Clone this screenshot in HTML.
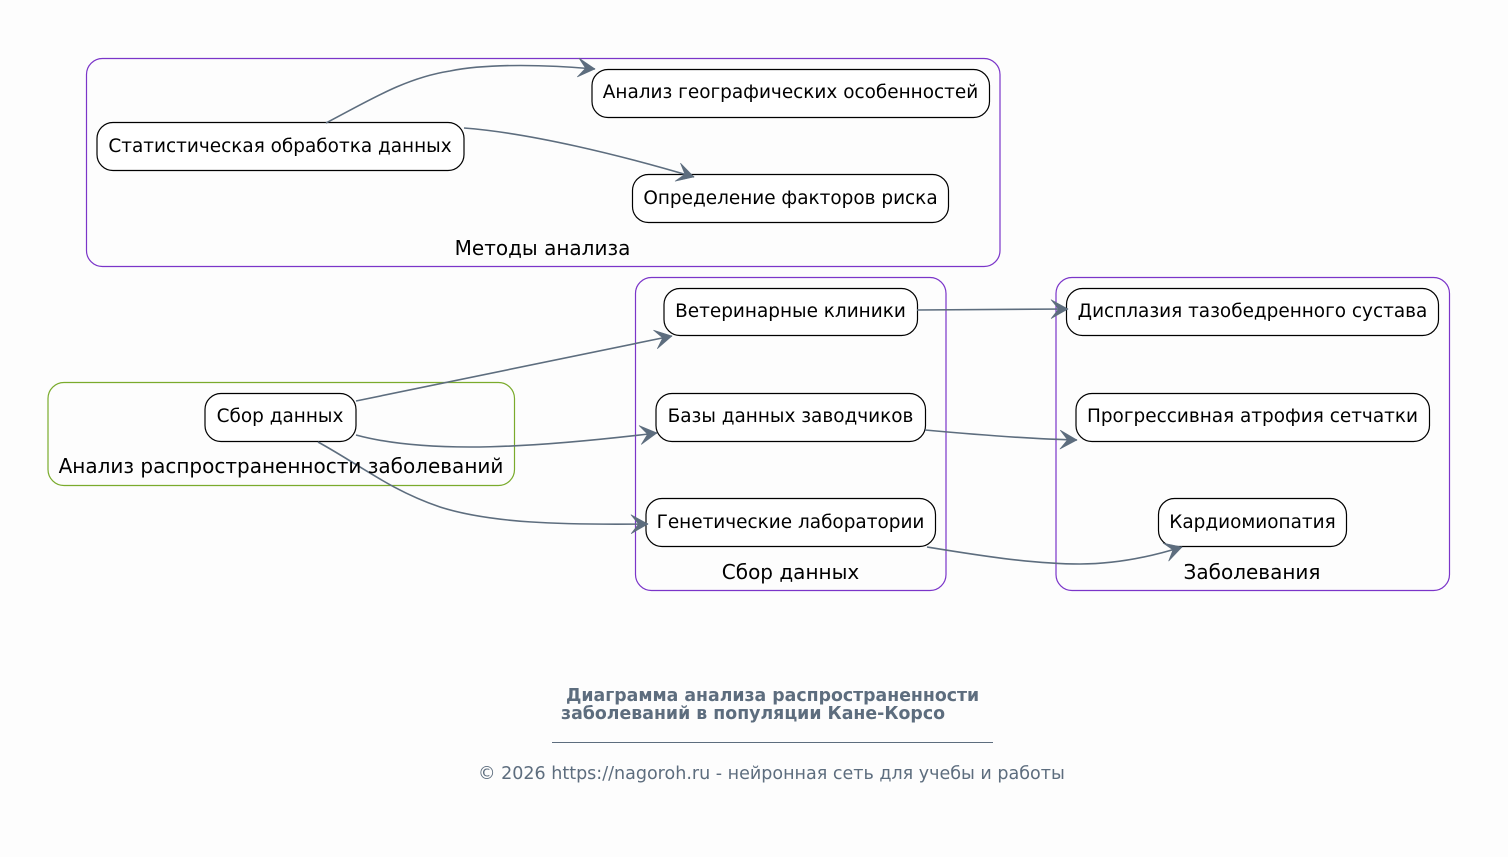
<!DOCTYPE html>
<html><head><meta charset="utf-8"><style>
html,body{margin:0;padding:0;background:#fdfdfd}
svg{display:block}
text{font-family:"DejaVu Sans",sans-serif;fill:#000}
.n{fill:#fff;stroke:#000;stroke-width:1.2}
.c{fill:none;stroke:#7b35c9;stroke-width:1.2}
.e{fill:none;stroke:#5d6d7e;stroke-width:1.6;marker-end:url(#a)}
.t{font-size:18.45px;text-anchor:middle}
.l{font-size:20px;text-anchor:middle}
</style></head><body>
<svg width="1508" height="857" viewBox="0 0 1508 857" xmlns="http://www.w3.org/2000/svg">
<defs><marker id="a" markerUnits="userSpaceOnUse" markerWidth="26" markerHeight="26" refX="20" refY="10" orient="auto" overflow="visible">
<path d="M3,0.500 L20,10 L3,19.500 L10.500,10 Z" fill="#5d6d7e" stroke="#5d6d7e" stroke-width=".6" stroke-linejoin="miter"/></marker></defs>
<rect width="1508" height="857" fill="#fdfdfd"/>
<rect class="c" x="86.5" y="58.5" width="913.5" height="208" rx="16"/>
<rect class="c" x="48" y="382.5" width="466.5" height="103" rx="16" style="stroke:#7aab2c"/>
<rect class="c" x="635.5" y="277.5" width="310.5" height="313" rx="16"/>
<rect class="c" x="1056" y="277.5" width="393.5" height="313" rx="16"/>
<rect class="n" x="592" y="69.5" width="397.5" height="48" rx="16"/>
<rect class="n" x="97" y="122.5" width="367" height="48" rx="16"/>
<rect class="n" x="632.5" y="174.5" width="316" height="48" rx="16"/>
<rect class="n" x="664" y="288.5" width="253.5" height="47" rx="16"/>
<rect class="n" x="656" y="393.5" width="269.5" height="48" rx="16"/>
<rect class="n" x="646" y="498.5" width="289.5" height="48" rx="16"/>
<rect class="n" x="205" y="393.5" width="151" height="48" rx="16"/>
<rect class="n" x="1066.5" y="288.5" width="372" height="47" rx="16"/>
<rect class="n" x="1076" y="393.5" width="353.5" height="48" rx="16"/>
<rect class="n" x="1158.5" y="498.5" width="188" height="48" rx="16"/>
<path class="e" d="M326,123 C370,100 405,78 450,71 C490,63 550,65 595,69"/>
<path class="e" d="M464,128 C530,133 620,155 694,177"/>
<path class="e" d="M356,401 L672,336"/>
<path class="e" d="M356,435 C430,455 540,447 657,433"/>
<path class="e" d="M318,442 C360,465 390,490 440,507 C490,523 560,525 648,524"/>
<path class="e" d="M917,310 L1068,309"/>
<path class="e" d="M925,430 C980,435 1030,439 1077,440"/>
<path class="e" d="M927,547 C970,554 1030,564 1080,564 C1115,564 1150,557 1182,547"/>
<text class="t" x="790.500" y="98">Анализ географических особенностей</text>
<text class="t" x="280" y="152">Статистическая обработка данных</text>
<text class="t" x="790.500" y="204">Определение факторов риска</text>
<text class="t" x="790.500" y="317">Ветеринарные клиники</text>
<text class="t" x="790.500" y="422">Базы данных заводчиков</text>
<text class="t" x="790.500" y="528">Генетические лаборатории</text>
<text class="t" x="280" y="422">Сбор данных</text>
<text class="t" x="1252.500" y="317">Дисплазия тазобедренного сустава</text>
<text class="t" x="1252.500" y="422">Прогрессивная атрофия сетчатки</text>
<text class="t" x="1252.500" y="528">Кардиомиопатия</text>
<text class="l" x="542.500" y="255">Методы анализа</text>
<text class="l" x="281" y="473">Анализ распространенности заболеваний</text>
<text class="l" x="790.500" y="579">Сбор данных</text>
<text class="l" x="1252" y="579">Заболевания</text>
<text x="566" y="701" style="font-size:17.32px;font-weight:bold;fill:#5d6d7e">Диаграмма анализа распространенности</text>
<text x="561" y="719" style="font-size:17.35px;font-weight:bold;fill:#5d6d7e">заболеваний в популяции Кане-Корсо</text>
<line x1="552" y1="742.500" x2="993" y2="742.500" stroke="#5d6d7e" stroke-width="1"/>
<text x="478" y="779" style="font-size:17.53px;fill:#5d6d7e">© 2026 https://nagoroh.ru - нейронная сеть для учебы и работы</text>
</svg>
</body></html>
